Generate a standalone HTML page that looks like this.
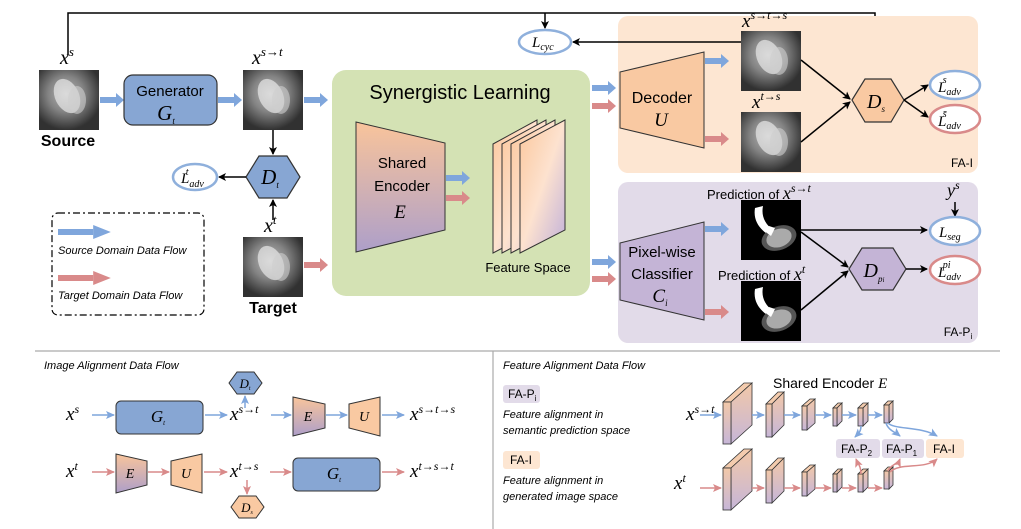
<!DOCTYPE html>
<html><head><meta charset="utf-8"><style>
body{margin:0;background:#fff}
svg{display:block}
text{font-family:"Liberation Sans",sans-serif}
.m{font-family:"Liberation Serif",serif;font-style:italic}
.it{font-style:italic}
</style></head><body>
<svg width="1021" height="529" viewBox="0 0 1021 529" xmlns="http://www.w3.org/2000/svg">
<defs>
<marker id="ab" markerWidth="8" markerHeight="8" refX="7" refY="4" orient="auto" markerUnits="userSpaceOnUse"><path d="M0,0 L8,4 L0,8 L2,4z" fill="#000"/></marker>
<marker id="abl" markerWidth="9" markerHeight="8" refX="8" refY="4" orient="auto" markerUnits="userSpaceOnUse"><path d="M0,0 L9,4 L0,8 L2,4z" fill="#7fa6dc"/></marker>
<marker id="are" markerWidth="9" markerHeight="8" refX="8" refY="4" orient="auto" markerUnits="userSpaceOnUse"><path d="M0,0 L9,4 L0,8 L2,4z" fill="#d98a8a"/></marker>
<linearGradient id="eg" x1="0" y1="0" x2="0" y2="1"><stop offset="0" stop-color="#f9c49b"/><stop offset="1" stop-color="#ad9fc9"/></linearGradient>
<linearGradient id="fg" x1="0" y1="0" x2="1" y2="1"><stop offset="0" stop-color="#fbc79c"/><stop offset="0.5" stop-color="#fde2cf"/><stop offset="1" stop-color="#c0b0da"/></linearGradient>
<linearGradient id="bg" x1="0" y1="0" x2="0" y2="1"><stop offset="0" stop-color="#f2c8a8"/><stop offset="1" stop-color="#c6b6d8"/></linearGradient>
<radialGradient id="hg" cx="0.45" cy="0.4" r="0.6"><stop offset="0" stop-color="#ddd"/><stop offset="0.5" stop-color="#999"/><stop offset="1" stop-color="#333"/></radialGradient>
<g id="thickB"><rect x="0" y="-3" width="16" height="6" fill="#7fa6dc"/><path d="M16,-7 L24,0 L16,7z" fill="#7fa6dc"/></g>
<g id="thickR"><rect x="0" y="-3" width="16" height="6" fill="#d98a8a"/><path d="M16,-7 L24,0 L16,7z" fill="#d98a8a"/></g>
<g id="heart"><rect width="60" height="60" fill="#2a2a2a"/><rect width="60" height="60" fill="url(#hg)" opacity="0.8"/><ellipse cx="28" cy="26" rx="12" ry="18" fill="#e8e8e8" opacity="0.7" transform="rotate(-25 28 26)"/><ellipse cx="38" cy="30" rx="9" ry="14" fill="#cfcfcf" opacity="0.6"/></g>
<g id="pred"><rect width="60" height="60" fill="#000"/><path d="M14,8 C12,20 18,28 26,34 L32,30 C24,24 20,16 22,6z" fill="#fff"/><ellipse cx="38" cy="38" rx="18" ry="12" fill="#555" transform="rotate(-20 38 38)"/><ellipse cx="38" cy="38" rx="13" ry="9" fill="#aaa" transform="rotate(-20 38 38)"/><path d="M22,30 L30,36 L34,28 L28,26z" fill="#fff"/></g>
</defs>

<!-- top feedback lines -->
<polyline points="68,55 68,13 875,13 875,78" fill="none" stroke="#000" stroke-width="1.5" marker-end="url(#ab)"/>
<line x1="545" y1="13" x2="545" y2="28" stroke="#000" stroke-width="1.5" marker-end="url(#ab)"/>

<!-- FA-I box -->
<rect x="618" y="16" width="360" height="157" rx="10" fill="#fde6d2"/>
<text x="962" y="167" font-size="12" text-anchor="middle">FA-I</text>
<!-- FA-P box -->
<rect x="618" y="182" width="360" height="161" rx="10" fill="#e2dbe9"/>
<text x="958" y="336" font-size="12" text-anchor="middle">FA-P<tspan font-size="8" dy="3">i</tspan></text>

<line x1="742" y1="42" x2="573" y2="42" stroke="#000" stroke-width="1.5" marker-end="url(#ab)"/>
<ellipse cx="545" cy="42" rx="26" ry="12" fill="#fff" stroke="#8fb0dc" stroke-width="2.5"/>
<text x="532" y="47" class="m" font-size="15">L<tspan font-size="10" dy="3">cyc</tspan></text>

<!-- Source -->
<text x="60" y="64" class="m" font-size="20">x<tspan font-size="13" dy="-8">s</tspan></text>
<use href="#heart" x="39" y="70"/>
<text x="68" y="146" font-size="16" font-weight="bold" text-anchor="middle">Source</text>
<use href="#thickB" x="100" y="100"/>
<rect x="124" y="75" width="93" height="50" rx="9" fill="#87a6d3" stroke="#333" stroke-width="1.2"/>
<text x="170" y="96" font-size="15" text-anchor="middle">Generator</text>
<text x="166" y="120" class="m" font-size="21" text-anchor="middle">G<tspan font-size="9" dy="4">t</tspan></text>
<use href="#thickB" x="218" y="100"/>
<text x="252" y="64" class="m" font-size="20">x<tspan font-size="13" dy="-8">s→t</tspan></text>
<use href="#heart" x="243" y="70"/>
<use href="#thickB" x="304" y="100"/>
<line x1="273" y1="130" x2="273" y2="154" stroke="#000" stroke-width="1.5" marker-end="url(#ab)"/>
<polygon points="246,177 259,156 287,156 300,177 287,198 259,198" fill="#87a6d3" stroke="#333" stroke-width="1.2"/>
<text x="270" y="184" class="m" font-size="21" text-anchor="middle">D<tspan font-size="9" dy="4">t</tspan></text>
<line x1="246" y1="177" x2="219" y2="177" stroke="#000" stroke-width="1.5" marker-end="url(#ab)"/>
<ellipse cx="195" cy="177" rx="22" ry="13" fill="#fff" stroke="#8fb0dc" stroke-width="2.5"/>
<text x="181" y="183" class="m" font-size="15">L<tspan font-size="10" dy="4">adv</tspan><tspan font-size="10" dx="-18" dy="-12">t</tspan></text>
<text x="264" y="232" class="m" font-size="20">x<tspan font-size="13" dy="-8">t</tspan></text>
<line x1="273" y1="220" x2="273" y2="200" stroke="#000" stroke-width="1.5" marker-end="url(#ab)"/>
<use href="#heart" x="243" y="237"/>
<text x="273" y="313" font-size="16" font-weight="bold" text-anchor="middle">Target</text>
<use href="#thickR" x="304" y="265"/>

<!-- legend -->
<rect x="52" y="213" width="152" height="102" rx="6" fill="none" stroke="#000" stroke-width="1.2" stroke-dasharray="7,3,2,3"/>
<g transform="translate(58,232) scale(2.2,1)"><use href="#thickB"/></g>
<text x="58" y="254" font-size="11" class="it">Source Domain Data Flow</text>
<g transform="translate(58,278) scale(2.2,1)"><use href="#thickR"/></g>
<text x="58" y="299" font-size="11" class="it">Target Domain Data Flow</text>

<!-- Synergistic -->
<rect x="332" y="70" width="258" height="226" rx="14" fill="#d4e2b4"/>
<text x="460" y="99" font-size="20" text-anchor="middle">Synergistic Learning</text>
<polygon points="356,122 445,143 445,230 356,252" fill="url(#eg)" stroke="#333" stroke-width="1"/>
<text x="402" y="168" font-size="15" text-anchor="middle">Shared</text>
<text x="402" y="191" font-size="15" text-anchor="middle">Encoder</text>
<text x="400" y="218" class="m" font-size="19" text-anchor="middle">E</text>
<use href="#thickB" x="446" y="178"/>
<use href="#thickR" x="446" y="198"/>
<g stroke="#333" stroke-width="1" fill="url(#fg)">
<polygon points="493,144 537,120 537,230 493,253"/>
<polygon points="502,144 546,120 546,230 502,253"/>
<polygon points="511,144 555,120 555,230 511,253"/>
<polygon points="520,144 565,120 565,230 520,253"/>
</g>
<text x="528" y="272" font-size="13" text-anchor="middle">Feature Space</text>
<use href="#thickB" x="592" y="88"/>
<use href="#thickR" x="592" y="106"/>
<use href="#thickB" x="592" y="262"/>
<use href="#thickR" x="592" y="279"/>

<!-- Decoder -->
<polygon points="620,72 704,52 704,148 620,128" fill="#f9c9a2" stroke="#333" stroke-width="1"/>
<text x="662" y="103" font-size="16" text-anchor="middle">Decoder</text>
<text x="661" y="126" class="m" font-size="19" text-anchor="middle">U</text>
<use href="#thickB" x="705" y="61"/>
<use href="#thickR" x="705" y="139"/>
<text x="742" y="27" class="m" font-size="19">x<tspan font-size="12" dy="-8">s→t→s</tspan></text>
<use href="#heart" x="741" y="31"/>
<text x="752" y="108" class="m" font-size="19">x<tspan font-size="12" dy="-8">t→s</tspan></text>
<use href="#heart" x="741" y="112"/>
<line x1="801" y1="60" x2="850" y2="99" stroke="#000" stroke-width="1.5" marker-end="url(#ab)"/>
<line x1="801" y1="142" x2="850" y2="102" stroke="#000" stroke-width="1.5" marker-end="url(#ab)"/>
<polygon points="852,100 865,79 891,79 904,100 891,122 865,122" fill="#f9c9a2" stroke="#333" stroke-width="1.2"/>
<text x="876" y="108" class="m" font-size="20" text-anchor="middle">D<tspan font-size="9" dy="4">s</tspan></text>
<line x1="904" y1="100" x2="928" y2="85" stroke="#000" stroke-width="1.5" marker-end="url(#ab)"/>
<line x1="904" y1="100" x2="928" y2="117" stroke="#000" stroke-width="1.5" marker-end="url(#ab)"/>
<ellipse cx="955" cy="85" rx="25" ry="14" fill="#fff" stroke="#8fb0dc" stroke-width="2.5"/>
<text x="938" y="92" class="m" font-size="15">L<tspan font-size="10" dy="3">adv</tspan><tspan font-size="10" dx="-18" dy="-12">s</tspan></text>
<ellipse cx="955" cy="119" rx="25" ry="14" fill="#fff" stroke="#d98a8a" stroke-width="2.5"/>
<text x="938" y="126" class="m" font-size="15">L<tspan font-size="10" dy="3">adv</tspan><tspan font-size="10" dx="-18" dy="-12">s̄</tspan></text>

<!-- Classifier -->
<polygon points="620,243 704,222 704,320 620,300" fill="#c4b4d6" stroke="#333" stroke-width="1"/>
<text x="662" y="257" font-size="15" text-anchor="middle">Pixel-wise</text>
<text x="662" y="279" font-size="15" text-anchor="middle">Classifier</text>
<text x="660" y="302" class="m" font-size="19" text-anchor="middle">C<tspan font-size="9" dy="4">i</tspan></text>
<use href="#thickB" x="705" y="229"/>
<use href="#thickR" x="705" y="312"/>
<text x="707" y="199" font-size="13">Prediction of <tspan class="m" font-size="18">x</tspan><tspan class="m" font-size="12" dy="-7">s→t</tspan></text>
<use href="#pred" x="741" y="200"/>
<text x="718" y="280" font-size="13">Prediction of <tspan class="m" font-size="18">x</tspan><tspan class="m" font-size="12" dy="-7">t</tspan></text>
<use href="#pred" x="741" y="281"/>
<line x1="801" y1="230" x2="927" y2="230" stroke="#000" stroke-width="1.5" marker-end="url(#ab)"/>
<text x="947" y="196" class="m" font-size="18">y<tspan font-size="12" dy="-7">s</tspan></text>
<line x1="955" y1="202" x2="955" y2="216" stroke="#000" stroke-width="1.5" marker-end="url(#ab)"/>
<ellipse cx="955" cy="231" rx="25" ry="14" fill="#fff" stroke="#8fb0dc" stroke-width="2.5"/>
<text x="939" y="237" class="m" font-size="15">L<tspan font-size="10" dy="3">seg</tspan></text>
<line x1="801" y1="232" x2="848" y2="267" stroke="#000" stroke-width="1.5" marker-end="url(#ab)"/>
<line x1="801" y1="310" x2="848" y2="271" stroke="#000" stroke-width="1.5" marker-end="url(#ab)"/>
<polygon points="849,269 862,248 893,248 906,269 893,290 862,290" fill="#c4b4d6" stroke="#333" stroke-width="1.2"/>
<text x="874" y="277" class="m" font-size="20" text-anchor="middle">D<tspan font-size="9" dy="5">p<tspan font-size="7">i</tspan></tspan></text>
<line x1="906" y1="269" x2="927" y2="269" stroke="#000" stroke-width="1.5" marker-end="url(#ab)"/>
<ellipse cx="955" cy="270" rx="25" ry="14" fill="#fff" stroke="#d98a8a" stroke-width="2.5"/>
<text x="938" y="277" class="m" font-size="15">L<tspan font-size="10" dy="3">adv</tspan><tspan font-size="10" dx="-18" dy="-12">pi</tspan></text>

<!-- dividers -->
<line x1="35" y1="351" x2="1000" y2="351" stroke="#aaa" stroke-width="1.2"/>
<line x1="493" y1="351" x2="493" y2="529" stroke="#aaa" stroke-width="1.2"/>

<!-- Image alignment -->
<text x="44" y="369" font-size="11" class="it">Image Alignment Data Flow</text>
<g stroke="#7fa6dc" stroke-width="1.5" fill="none" marker-end="url(#abl)">
<line x1="92" y1="415" x2="114" y2="415"/><line x1="205" y1="415" x2="227" y2="415"/>
<line x1="245" y1="408" x2="245" y2="396"/><line x1="271" y1="415" x2="291" y2="415"/>
<line x1="326" y1="415" x2="347" y2="415"/><line x1="382" y1="415" x2="404" y2="415"/>
</g>
<text x="66" y="420" class="m" font-size="19">x<tspan font-size="12" dy="-7">s</tspan></text>
<rect x="116" y="401" width="87" height="33" rx="5" fill="#87a6d3" stroke="#333" stroke-width="1"/>
<text x="158" y="422" class="m" font-size="17" text-anchor="middle">G<tspan font-size="7" dy="3">t</tspan></text>
<text x="230" y="420" class="m" font-size="19">x<tspan font-size="12" dy="-7">s→t</tspan></text>
<polygon points="229,383 237,372 254,372 262,383 254,394 237,394" fill="#87a6d3" stroke="#333" stroke-width="1"/>
<text x="245" y="388" class="m" font-size="13" text-anchor="middle">D<tspan font-size="6" dy="2">t</tspan></text>
<polygon points="293,397 325,404 325,428 293,436" fill="url(#eg)" stroke="#333" stroke-width="1"/>
<text x="308" y="421" class="m" font-size="14" text-anchor="middle">E</text>
<polygon points="349,404 380,397 380,436 349,428" fill="#f9c9a2" stroke="#333" stroke-width="1"/>
<text x="364" y="421" class="m" font-size="14" text-anchor="middle">U</text>
<text x="410" y="420" class="m" font-size="19">x<tspan font-size="12" dy="-7">s→t→s</tspan></text>

<g stroke="#d98a8a" stroke-width="1.5" fill="none" marker-end="url(#are)">
<line x1="92" y1="472" x2="114" y2="472"/><line x1="148" y1="472" x2="169" y2="472"/>
<line x1="204" y1="472" x2="227" y2="472"/><line x1="247" y1="480" x2="247" y2="494"/>
<line x1="270" y1="472" x2="291" y2="472"/><line x1="382" y1="472" x2="404" y2="472"/>
</g>
<text x="66" y="477" class="m" font-size="19">x<tspan font-size="12" dy="-7">t</tspan></text>
<polygon points="116,454 147,461 147,485 116,493" fill="url(#eg)" stroke="#333" stroke-width="1"/>
<text x="130" y="478" class="m" font-size="14" text-anchor="middle">E</text>
<polygon points="171,461 202,454 202,493 171,485" fill="#f9c9a2" stroke="#333" stroke-width="1"/>
<text x="186" y="478" class="m" font-size="14" text-anchor="middle">U</text>
<text x="230" y="477" class="m" font-size="19">x<tspan font-size="12" dy="-7">t→s</tspan></text>
<polygon points="231,507 239,496 256,496 264,507 256,518 239,518" fill="#f9c9a2" stroke="#333" stroke-width="1"/>
<text x="247" y="512" class="m" font-size="13" text-anchor="middle">D<tspan font-size="6" dy="2">s</tspan></text>
<rect x="293" y="458" width="87" height="33" rx="5" fill="#87a6d3" stroke="#333" stroke-width="1"/>
<text x="334" y="479" class="m" font-size="17" text-anchor="middle">G<tspan font-size="7" dy="3">t</tspan></text>
<text x="410" y="477" class="m" font-size="19">x<tspan font-size="12" dy="-7">t→s→t</tspan></text>

<!-- Feature alignment -->
<text x="503" y="369" font-size="11" class="it">Feature Alignment Data Flow</text>
<rect x="503" y="385" width="37" height="18" rx="3" fill="#e2dbe9"/>
<text x="508" y="398" font-size="12">FA-P<tspan font-size="8" dy="3">i</tspan></text>
<text x="503" y="418" font-size="11" class="it">Feature alignment in</text>
<text x="503" y="434" font-size="11" class="it">semantic prediction space</text>
<rect x="503" y="451" width="37" height="18" rx="3" fill="#fde6d2"/>
<text x="510" y="464" font-size="12">FA-I</text>
<text x="503" y="484" font-size="11" class="it">Feature alignment in</text>
<text x="503" y="500" font-size="11" class="it">generated image space</text>
<text x="773" y="388" font-size="14">Shared Encoder <tspan class="m" font-size="15">E</tspan></text>

<g id="blocks" stroke="#333" stroke-width="0.8">
<polygon points="723,402 731,402 752,383 744,383" fill="#f4ccae"/><polygon points="731,402 752,383 752,425 731,444" fill="url(#bg)"/><rect x="723" y="402" width="8" height="42" fill="url(#bg)"/>
<polygon points="766,404 772,404 784,392 778,392" fill="#f4ccae"/><polygon points="772,404 784,392 784,425 772,437" fill="url(#bg)"/><rect x="766" y="404" width="6" height="33" fill="url(#bg)"/>
<polygon points="802,406 807,406 815,399 810,399" fill="#f4ccae"/><polygon points="807,406 815,399 815,423 807,430" fill="url(#bg)"/><rect x="802" y="406" width="5" height="24" fill="url(#bg)"/>
<polygon points="833,408 837,408 842,403 838,403" fill="#f4ccae"/><polygon points="837,408 842,403 842,421 837,426" fill="url(#bg)"/><rect x="833" y="408" width="4" height="18" fill="url(#bg)"/>
<polygon points="858,408 863,408 868,403 863,403" fill="#f4ccae"/><polygon points="863,408 868,403 868,421 863,426" fill="url(#bg)"/><rect x="858" y="408" width="5" height="18" fill="url(#bg)"/>
<polygon points="884,405 889,405 893,401 888,401" fill="#f4ccae"/><polygon points="889,405 893,401 893,419 889,423" fill="url(#bg)"/><rect x="884" y="405" width="5" height="18" fill="url(#bg)"/>
</g>
<use href="#blocks" y="66"/>
<text x="686" y="420" class="m" font-size="19">x<tspan font-size="12" dy="-7">s→t</tspan></text>
<text x="674" y="489" class="m" font-size="19">x<tspan font-size="12" dy="-7">t</tspan></text>
<g stroke="#7fa6dc" stroke-width="1.5" fill="none" marker-end="url(#abl)">
<line x1="700" y1="415" x2="721" y2="415"/><line x1="752" y1="415" x2="764" y2="415"/>
<line x1="784" y1="415" x2="800" y2="415"/><line x1="815" y1="415" x2="831" y2="415"/>
<line x1="842" y1="415" x2="856" y2="415"/><line x1="868" y1="415" x2="882" y2="415"/>
<path d="M861,426 C861,432 858,434 855,437"/>
<path d="M886,423 C888,430 895,432 900,436"/>
<path d="M888,423 C895,430 920,426 937,436"/>
</g>
<g stroke="#d98a8a" stroke-width="1.5" fill="none" marker-end="url(#are)">
<line x1="700" y1="488" x2="721" y2="488"/><line x1="752" y1="488" x2="764" y2="488"/>
<line x1="784" y1="488" x2="800" y2="488"/><line x1="815" y1="488" x2="831" y2="488"/>
<line x1="842" y1="488" x2="856" y2="488"/><line x1="868" y1="488" x2="882" y2="488"/>
<path d="M861,474 C861,466 858,464 856,459"/>
<path d="M888,471 C890,465 898,464 900,459"/>
<path d="M890,472 C900,462 925,470 937,459"/>
</g>
<rect x="836" y="439" width="44" height="19" rx="3" fill="#e2dbe9"/>
<text x="841" y="453" font-size="12">FA-P<tspan font-size="8" dy="3">2</tspan></text>
<rect x="882" y="439" width="42" height="19" rx="3" fill="#e2dbe9"/>
<text x="886" y="453" font-size="12">FA-P<tspan font-size="8" dy="3">1</tspan></text>
<rect x="926" y="439" width="38" height="19" rx="3" fill="#fde6d2"/>
<text x="933" y="453" font-size="12">FA-I</text>
</svg>
</body></html>
